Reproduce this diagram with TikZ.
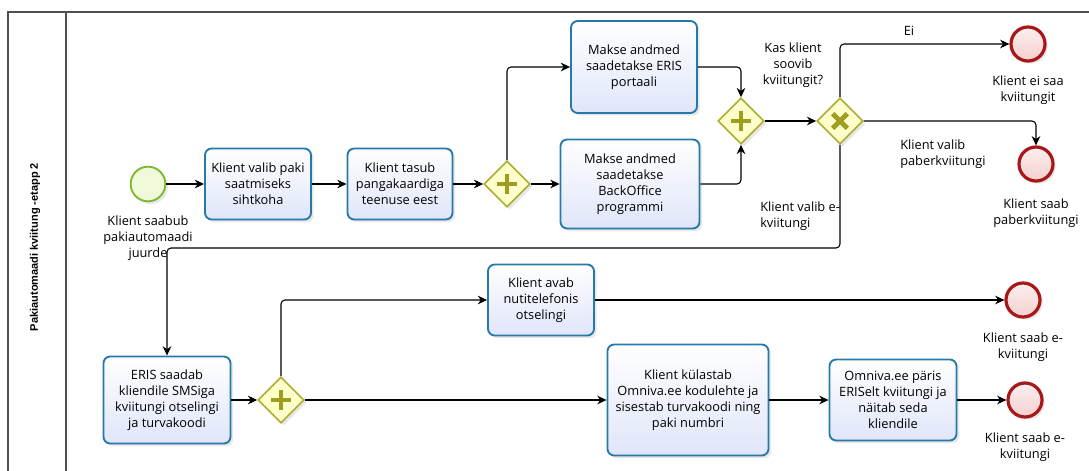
\documentclass[tikz,border=0pt]{standalone}
\usepackage{fontspec}
\setmainfont{Open Sans}
\newfontfamily\titlefont{Liberation Sans}
\usetikzlibrary{arrows.meta, positioning, shapes.geometric, shadows}

\definecolor{taskline}{RGB}{38,122,170}
\definecolor{taskfill}{RGB}{224,230,250}
\definecolor{gwline}{RGB}{172,172,48}
\definecolor{gwfill}{RGB}{255,255,204}
\definecolor{gwmark}{RGB}{158,158,32}
\definecolor{endline}{RGB}{168,24,24}
\definecolor{endfill}{RGB}{244,208,208}
\definecolor{startline}{RGB}{122,186,44}
\definecolor{startfill}{RGB}{240,250,218}
\definecolor{poolline}{RGB}{80,80,80}

\begin{document}
\begin{tikzpicture}[x=0.75pt, y=-0.75pt,
    >={Stealth[length=7pt,width=6.5pt]},
    every node/.style={font=\fontsize{9.6}{12}\selectfont},
    shade/.style={drop shadow={shadow xshift=2pt,shadow yshift=-2pt,opacity=0.18}},
    task/.style={draw=taskline, line width=1.4pt, rounded corners=5pt,
        top color=white, bottom color=taskfill, align=center, inner sep=2pt, shade},
    gateway/.style={diamond, draw=gwline, line width=1.2pt, fill=gwfill,
        minimum width=34.5pt, minimum height=34.5pt, inner sep=0pt, shade},
    parallel/.style={gateway, path picture={
        \draw[gwmark, line width=3.6pt]
        ([xshift=-7.5pt]path picture bounding box.center) -- ([xshift=7.5pt]path picture bounding box.center)
        ([yshift=-7.5pt]path picture bounding box.center) -- ([yshift=7.5pt]path picture bounding box.center);}},
    exclusive/.style={gateway, path picture={
        \draw[gwmark, line width=3.6pt]
        ([shift={(-5.5pt,-5.5pt)}]path picture bounding box.center) -- ([shift={(5.5pt,5.5pt)}]path picture bounding box.center)
        ([shift={(-5.5pt,5.5pt)}]path picture bounding box.center) -- ([shift={(5.5pt,-5.5pt)}]path picture bounding box.center);}},
    startev/.style={circle, draw=startline, line width=1.4pt, fill=startfill,
        minimum size=26pt, inner sep=0pt, shade},
    endev/.style={circle, draw=endline, line width=2.4pt, top color=endfill!35,
        bottom color=endfill, minimum size=25.5pt, inner sep=0pt, shade},
    flow/.style={->, line width=0.8pt, rounded corners=3pt},
    lbl/.style={align=center, inner sep=0pt},
    lbll/.style={align=left, anchor=west, inner sep=0pt}]

    \useasboundingbox (0,0) rectangle (1089,471);

    % pool
    \draw[poolline, line width=1pt] (8,471) -- (8,12) -- (1089,12);
    \draw[poolline, line width=1pt] (66,12) -- (66,471);
    \node[rotate=90, font={\titlefont\bfseries\fontsize{8.25}{10}\selectfont}]
        (pooltitle) at (35,247) {Pakiautomaadi kviitung -etapp 2};

    % upper row
    \node[startev]  (start) at (148,184) {};
    \node[task, minimum width=79.5pt, minimum height=53.25pt]  (valib) at (258,184)
        {Klient valib paki\\saatmiseks\\sihtkoha};
    \node[task, minimum width=78.75pt, minimum height=53.25pt] (tasub) at (400,184)
        {Klient tasub\\pangakaardiga\\teenuse eest};
    \node[parallel] (g1) at (507,184) {};
    \node[task, minimum width=94.5pt, minimum height=69pt]    (eris) at (634,67)
        {Makse andmed\\saadetakse ERIS\\portaali};
    \node[task, minimum width=104.25pt, minimum height=66.75pt] (backoffice) at (630,184)
        {Makse andmed\\saadetakse\\BackOffice\\programmi};
    \node[parallel]  (g2) at (741,121) {};
    \node[exclusive] (g3) at (840,121) {};
    \node[endev] (e1) at (1028,44) {};
    \node[endev] (e2) at (1036,164) {};

    % lower row
    \node[task, minimum width=95.25pt, minimum height=65.25pt] (sms) at (167,400)
        {ERIS saadab\\kliendile SMSiga\\kviitungi otselingi\\ja turvakoodi};
    \node[parallel] (g4) at (281,400) {};
    \node[task, minimum width=79.5pt, minimum height=53.25pt] (avab) at (541,300)
        {Klient avab\\nutitelefonis\\otselingi};
    \node[endev] (e3) at (1023,300) {};
    \node[task, minimum width=120.75pt, minimum height=83.25pt] (kulastab) at (688,400)
        {Klient külastab\\Omniva.ee kodulehte ja\\sisestab turvakoodi ning\\paki numbri};
    \node[task, minimum width=95.25pt, minimum height=60.75pt] (parib) at (893,400)
        {Omniva.ee päris\\ERISelt kviitungi ja\\näitab seda\\kliendile};
    \node[endev] (e4) at (1025,400) {};

    % labels
    \node[lbl]  (lstart)  at (148,238) {Klient saabub\\pakiautomaadi\\juurde};
    \node[lbl]  (lkas)    at (793,65)  {Kas klient\\soovib\\kviitungit?};
    \node[lbl]  (lei)     at (909,31)  {Ei};
    \node[lbl]  (le1)     at (1028,90) {Klient ei saa\\kviitungit};
    \node[lbll] (lpaber)  at (900,154) {Klient valib\\paberkviitungi};
    \node[lbl]  (le2)     at (1036,213) {Klient saab\\paberkviitungi};
    \node[lbll] (levalib) at (760,216) {Klient valib e-\\kviitungi};
    \node[lbl]  (le3)     at (1023,347) {Klient saab e-\\kviitungi};
    \node[lbl]  (le4)     at (1025,447) {Klient saab e-\\kviitungi};

    % flows
    \coordinate (ebend) at (840,248);
    \draw[flow] (start) -- (valib);
    \draw[flow] (valib) -- (tasub);
    \draw[flow] (tasub) -- (g1);
    \draw[flow] (g1.north) |- (eris.west);
    \draw[flow] (g1) -- (backoffice);
    \draw[flow] (eris.east) -| (g2.north);
    \draw[flow] (backoffice.east) -| (g2.south);
    \draw[flow] (g2) -- (g3);
    \draw[flow] (g3.north) |- (e1.west);
    \draw[flow] (g3.east) -| (e2.north);
    \draw[flow] (g3.south) -- (ebend) -| (sms.north);
    \draw[flow] (sms) -- (g4);
    \draw[flow] (g4.north) |- (avab.west);
    \draw[flow] (avab) -- (e3);
    \draw[flow] (g4) -- (kulastab);
    \draw[flow] (kulastab) -- (parib);
    \draw[flow] (parib) -- (e4);
\end{tikzpicture}
\end{document}
